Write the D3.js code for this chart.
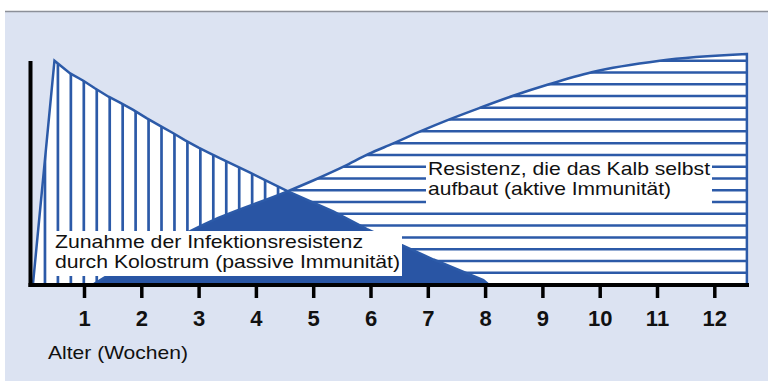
<!DOCTYPE html>
<html>
<head>
<meta charset="utf-8">
<script src="https://cdn.jsdelivr.net/npm/d3@7"></script>
<style>
  body { margin: 0; background: #fff; }
  svg { display: block; font-family: "Liberation Sans", Arial, Helvetica, sans-serif; }
</style>
</head>
<body>
<div id="chart"></div>
<script>
// Age in weeks (x axis ticks)
const weekTicks = [1, 2, 3, 4, 5, 6, 7, 8, 9, 10, 11, 12];

// Passive immunity from colostrum
const passiveWeeks  = [0.1, 0.476, 0.75, 0.98, 1.18, 1.42, 1.62, 1.85, 2.09, 2.32, 2.55, 2.75, 2.99, 3.19, 3.36, 3.89, 4.32, 4.56, 5.34, 5.93, 6.51, 7.09, 7.96, 8.05];
const passiveValues = [0, 95, 89.6, 86.5, 83.3, 79.7, 77.2, 74.1, 70.5, 67.3, 64.2, 61.3, 58.1, 55.7, 53.6, 47.5, 42.3, 39.4, 31, 23.5, 17, 10.6, 1.9, 0];

// Active immunity the calf builds itself
const activeWeeks  = [1.15, 1.6, 2.2, 3.19, 4.53, 5.08, 5.52, 5.95, 6.39, 6.88, 7.38, 7.9, 8.48, 9.12, 9.85, 11.04, 12.56];
const activeValues = [0, 6.5, 14.5, 26.7, 39.4, 45.1, 50, 55.3, 59.9, 65.2, 70.2, 75, 80.1, 85.1, 90.1, 95, 97.8];

// Labels
const passiveLabel = ["Zunahme der Infektionsresistenz", "durch Kolostrum (passive Immunität)"];
const activeLabel = ["Resistenz, die das Kalb selbst", "aufbaut (aktive Immunität)"];
const xTitle = "Alter (Wochen)";

const passive = passiveWeeks.map((w, i) => ({ week: w, value: passiveValues[i] }));
const active = activeWeeks.map((w, i) => ({ week: w, value: activeValues[i] }));

const width = 768;
const height = 381;

const lineBlue = "#2c5aa8";
const darkBlue = "#2955a4";
const bgBlue = "#dce3f2";

const svg = d3.select("#chart")
  .append("svg")
  .attr("width", width)
  .attr("height", height);

// Background panel with grey rule on top
svg.append("rect")
  .attr("x", 5)
  .attr("y", 11)
  .attr("width", width - 5)
  .attr("height", height - 11)
  .attr("fill", bgBlue);

svg.append("line")
  .attr("x1", 5)
  .attr("x2", width)
  .attr("y1", 11.5)
  .attr("y2", 11.5)
  .attr("stroke", "#8c9099")
  .attr("stroke-width", 1.5);

const x = d3.scaleLinear()
  .domain([0, 12])
  .range([27.2, 714.8]);

const y = d3.scaleLinear()
  .domain([0, 100])
  .range([284.5, 48.9]);

const passiveArea = d3.area()
  .x(d => x(d.week))
  .y0(y(0))
  .y1(d => y(d.value));

const activeArea = d3.area()
  .x(d => x(d.week))
  .y0(y(0))
  .y1(d => y(d.value))
  .curve(d3.curveMonotoneX);

const defs = svg.append("defs");

defs.append("clipPath")
  .attr("id", "clip-passive")
  .append("path")
  .attr("d", passiveArea(passive));

defs.append("clipPath")
  .attr("id", "clip-active")
  .append("path")
  .attr("d", activeArea(active));

// White fills
svg.append("path")
  .attr("d", passiveArea(passive))
  .attr("fill", "#fff");

svg.append("path")
  .attr("d", activeArea(active))
  .attr("fill", "#fff");

// Vertical hatching inside the passive area
svg.append("g")
  .attr("clip-path", "url(#clip-passive)")
  .selectAll("line")
  .data(d3.range(0.31, 8.1, 0.226))
  .enter()
  .append("line")
  .attr("x1", d => x(d))
  .attr("x2", d => x(d))
  .attr("y1", y(0))
  .attr("y2", y(100))
  .attr("stroke", lineBlue)
  .attr("stroke-width", 2.7);

// Horizontal hatching inside the active area
svg.append("g")
  .attr("clip-path", "url(#clip-active)")
  .selectAll("line")
  .data(d3.range(5, 100, 5))
  .enter()
  .append("line")
  .attr("x1", x(0))
  .attr("x2", x(12.6))
  .attr("y1", d => y(d))
  .attr("y2", d => y(d))
  .attr("stroke", lineBlue)
  .attr("stroke-width", 2.5);

// Where both kinds of resistance overlap: solid blue
svg.append("path")
  .attr("d", activeArea(active))
  .attr("clip-path", "url(#clip-passive)")
  .attr("fill", darkBlue);

// Outlines
svg.append("path")
  .attr("d", passiveArea(passive))
  .attr("fill", "none")
  .attr("stroke", lineBlue)
  .attr("stroke-width", 2.5)
  .attr("stroke-linejoin", "miter");

svg.append("path")
  .attr("d", activeArea(active))
  .attr("fill", "none")
  .attr("stroke", lineBlue)
  .attr("stroke-width", 2.5);

// Label boxes
function labelBox(lines, bx, by, bw, bh, tx, lengths) {
  svg.append("rect")
    .attr("x", bx)
    .attr("y", by)
    .attr("width", bw)
    .attr("height", bh)
    .attr("fill", "#fff");

  lines.forEach(function(t, i) {
    svg.append("text")
      .attr("x", tx)
      .attr("y", by + 16.5 + i * 20)
      .attr("font-size", "18.5px")
      .attr("fill", "#111")
      .attr("textLength", lengths[i])
      .attr("lengthAdjust", "spacingAndGlyphs")
      .text(t);
  });
}

labelBox(passiveLabel, 47, 231, 355, 45, 55, [308, 345]);
labelBox(activeLabel, 426, 158, 286, 52, 428, [282, 243]);

// Axes
svg.append("line")
  .attr("x1", 30.5)
  .attr("x2", 30.5)
  .attr("y1", 61)
  .attr("y2", y(0) + 2.5)
  .attr("stroke", "#000")
  .attr("stroke-width", 4);

svg.append("line")
  .attr("x1", 28.5)
  .attr("x2", 749)
  .attr("y1", y(0) + 0.5)
  .attr("y2", y(0) + 0.5)
  .attr("stroke", "#000")
  .attr("stroke-width", 4);

svg.selectAll(".tick-mark")
  .data(weekTicks)
  .enter()
  .append("line")
  .attr("class", "tick-mark")
  .attr("x1", d => x(d))
  .attr("x2", d => x(d))
  .attr("y1", y(0))
  .attr("y2", y(0) + 13.5)
  .attr("stroke", "#000")
  .attr("stroke-width", 3.5);

svg.selectAll(".tick-label")
  .data(weekTicks)
  .enter()
  .append("text")
  .attr("class", "tick-label")
  .attr("x", d => x(d))
  .attr("y", 326)
  .attr("text-anchor", "middle")
  .attr("font-size", "22px")
  .attr("font-weight", "bold")
  .attr("fill", "#111")
  .text(d => d);

svg.append("text")
  .attr("x", 48)
  .attr("y", 359)
  .attr("font-size", "18.5px")
  .attr("fill", "#111")
  .attr("textLength", 140)
  .attr("lengthAdjust", "spacingAndGlyphs")
  .text(xTitle);
</script>
</body>
</html>
